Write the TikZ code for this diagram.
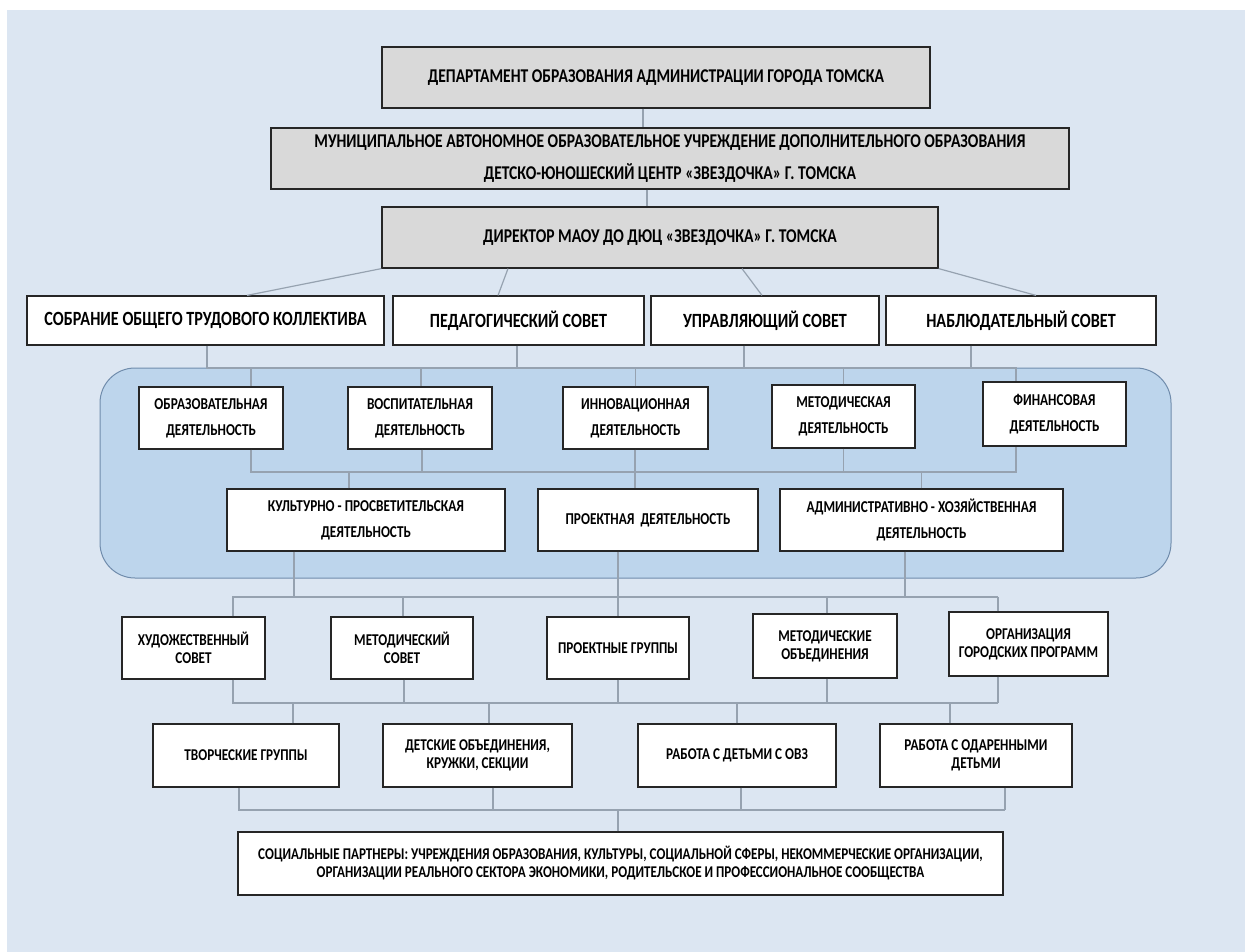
\documentclass[tikz,border=0pt]{standalone}
\usepackage{fontspec}
\setmainfont{Carlito}[FakeStretch=0.8]
\usetikzlibrary{positioning}
\definecolor{fonblue}{RGB}{220,230,242}
\definecolor{panelblue}{RGB}{189,213,236}
\definecolor{panelline}{RGB}{112,140,172}
\definecolor{linkgray}{RGB}{150,162,176}
\definecolor{boxgray}{RGB}{217,217,217}
\tikzstyle{gbox} = [draw=black!85, fill=boxgray, line width=1.2pt, align=center, inner sep=0pt, minimum height=61pt, font=\bfseries\fontsize{19.5}{32}\selectfont]
\tikzstyle{sovet} = [draw=black!85, fill=white, line width=1.2pt, inner sep=0pt, minimum height=49pt, font=\bfseries\fontsize{20.2}{24}\selectfont]
\tikzstyle{deyat} = [draw=black!85, fill=white, line width=1.2pt, inner sep=0pt, align=center, minimum height=62pt, font=\bfseries\fontsize{16.6}{26}\selectfont]
\tikzstyle{zveno} = [deyat, font=\bfseries\fontsize{16.5}{18}\selectfont]
\tikzstyle{link} = [draw=linkgray, line width=1.2pt]

\begin{document}
\begin{tikzpicture}[x=1pt, y=-1pt]
\useasboundingbox (0,0) rectangle (1245,952);
\fill[white] (0,0) rectangle (1245,952);
\fill[fonblue] (7,10) rectangle (1245,952);
\draw[panelline, fill=panelblue, line width=1pt, rounded corners=35pt] (100,368) rectangle (1171,578);

% upper levels
\node[gbox, minimum width=548pt](dep) at (656,77.5) {ДЕПАРТАМЕНТ ОБРАЗОВАНИЯ АДМИНИСТРАЦИИ ГОРОДА ТОМСКА};
\node[gbox, minimum width=798pt](mou) at (670,158.5) {МУНИЦИПАЛЬНОЕ АВТОНОМНОЕ ОБРАЗОВАТЕЛЬНОЕ УЧРЕЖДЕНИЕ ДОПОЛНИТЕЛЬНОГО ОБРАЗОВАНИЯ\\ДЕТСКО-ЮНОШЕСКИЙ ЦЕНТР «ЗВЕЗДОЧКА» Г. ТОМСКА};
\node[gbox, minimum width=556pt](dir) at (660,237.5) {ДИРЕКТОР МАОУ ДО ДЮЦ «ЗВЕЗДОЧКА» Г. ТОМСКА};

% councils
\node[sovet, minimum width=357pt](c1) at (205.5,320.5) {СОБРАНИЕ ОБЩЕГО ТРУДОВОГО КОЛЛЕКТИВА};
\node[sovet, minimum width=251pt](c2) at (518.5,320.5) {ПЕДАГОГИЧЕСКИЙ СОВЕТ};
\node[sovet, minimum width=228pt](c3) at (765,320.5) {УПРАВЛЯЮЩИЙ СОВЕТ};
\node[sovet, minimum width=270pt](c4) at (1021,320.5) {НАБЛЮДАТЕЛЬНЫЙ СОВЕТ};

% activities
\node[deyat, minimum width=144pt](obr) at (211,418) {ОБРАЗОВАТЕЛЬНАЯ\\ДЕЯТЕЛЬНОСТЬ};
\node[deyat, minimum width=144pt](vosp) at (420,418) {ВОСПИТАТЕЛЬНАЯ\\ДЕЯТЕЛЬНОСТЬ};
\node[deyat, minimum width=145pt](innov) at (635.5,418) {ИННОВАЦИОННАЯ\\ДЕЯТЕЛЬНОСТЬ};
\node[deyat, minimum width=143pt, minimum height=63pt](metod) at (843.5,416.5) {МЕТОДИЧЕСКАЯ\\ДЕЯТЕЛЬНОСТЬ};
\node[deyat, minimum width=143pt, minimum height=64pt](fin) at (1054.5,414) {ФИНАНСОВАЯ\\ДЕЯТЕЛЬНОСТЬ};
\node[deyat, minimum width=278pt](kult) at (366,520) {КУЛЬТУРНО - ПРОСВЕТИТЕЛЬСКАЯ\\ДЕЯТЕЛЬНОСТЬ};
\node[deyat, minimum width=220pt](proj) at (648,520) {ПРОЕКТНАЯ\ \ ДЕЯТЕЛЬНОСТЬ};
\node[deyat, minimum width=283pt](admin) at (921.5,520) {АДМИНИСТРАТИВНО - ХОЗЯЙСТВЕННАЯ\\ДЕЯТЕЛЬНОСТЬ};

% units
\node[zveno, minimum width=143pt](hud) at (193.5,648) {ХУДОЖЕСТВЕННЫЙ\\СОВЕТ};
\node[zveno, minimum width=142pt](msov) at (402,648) {МЕТОДИЧЕСКИЙ\\СОВЕТ};
\node[zveno, minimum width=142pt](prgr) at (618,648) {ПРОЕКТНЫЕ ГРУППЫ};
\node[zveno, minimum width=144pt, minimum height=64pt](mob) at (825,646) {МЕТОДИЧЕСКИЕ\\ОБЪЕДИНЕНИЯ};
\node[zveno, minimum width=159pt, minimum height=64pt](org) at (1028.5,644) {ОРГАНИЗАЦИЯ\\ГОРОДСКИХ ПРОГРАММ};
\node[zveno, minimum width=186pt, minimum height=63pt](tvor) at (246,755.5) {ТВОРЧЕСКИЕ ГРУППЫ};
\node[zveno, minimum width=189pt, minimum height=63pt](det) at (477.5,755.5) {ДЕТСКИЕ ОБЪЕДИНЕНИЯ,\\КРУЖКИ, СЕКЦИИ};
\node[zveno, minimum width=198pt, minimum height=63pt](ovz) at (737,755.5) {РАБОТА С ДЕТЬМИ С ОВЗ};
\node[zveno, minimum width=192pt, minimum height=63pt](odar) at (976,755.5) {РАБОТА С ОДАРЕННЫМИ\\ДЕТЬМИ};
\node[zveno, minimum width=765pt, minimum height=63pt, font=\bfseries\fontsize{16.4}{18}\selectfont](soc) at (620.5,863.5) {СОЦИАЛЬНЫЕ ПАРТНЕРЫ: УЧРЕЖДЕНИЯ ОБРАЗОВАНИЯ, КУЛЬТУРЫ, СОЦИАЛЬНОЙ СФЕРЫ, НЕКОММЕРЧЕСКИЕ ОРГАНИЗАЦИИ,\\ОРГАНИЗАЦИИ РЕАЛЬНОГО СЕКТОРА ЭКОНОМИКИ, РОДИТЕЛЬСКОЕ И ПРОФЕССИОНАЛЬНОЕ СООБЩЕСТВА};

% bus ends
\coordinate (busA) at (1016,368);
\coordinate (busB) at (1016,472);
\coordinate (busC) at (998,597);
\coordinate (busD) at (998,703);
\coordinate (busE) at (1005,810);

\draw[link] ([xshift=-13pt]dep.south) -- ([xshift=-27pt]mou.north);
\draw[link] ([xshift=-23pt]mou.south) -- ([xshift=-13pt]dir.north);
\draw[link] (dir.south west) -- ([xshift=41.5pt]c1.north);
\draw[link] ([xshift=-152pt]dir.south) -- ([xshift=-20.5pt]c2.north);
\draw[link] ([xshift=82pt]dir.south) -- ([xshift=-3pt]c3.north);
\draw[link] (dir.south east) -- ([xshift=15pt]c4.north);

\draw[link] ([xshift=1.5pt]c1.south) |- (busA) -- ([xshift=-38.5pt]fin.north);
\draw[link] ([xshift=-1.5pt]c2.south) |- (busA);
\draw[link] ([xshift=-21pt]c3.south) |- (busA);
\draw[link] ([xshift=-50pt]c4.south) |- (busA);
\draw[link] ([xshift=40pt]obr.north) |- (busA);
\draw[link] ([xshift=1pt]vosp.north) |- (busA);
\draw[link] (innov.north) |- (busA);
\draw[link] (metod.north) |- (busA);

\draw[link] ([xshift=40pt]obr.south) |- (busB) -- ([xshift=-38.5pt]fin.south);
\draw[link] ([xshift=2pt]vosp.south) |- (busB);
\draw[link] (metod.south) |- (busB);
\draw[link] ([xshift=-17pt]kult.north) |- (busB);
\draw[link] (admin.north) |- (busB);
\draw[link] ([xshift=-0.5pt]innov.south) -- ([xshift=-13pt]proj.north);

\draw[link] ([xshift=-72pt]kult.south) |- (busC);
\draw[link] ([xshift=-16.5pt]admin.south) |- (busC);
\draw[link] ([xshift=39.5pt]hud.north) |- (busC);
\draw[link] ([xshift=1pt]msov.north) |- (busC);
\draw[link] ([xshift=2pt]mob.north) |- (busC);
\draw[link] ([xshift=-30.5pt]org.north) -- (busC);
\draw[link] ([xshift=-30pt]proj.south) -- (prgr.north);

\draw[link] ([xshift=39.5pt]hud.south) |- (busD);
\draw[link] ([xshift=2pt]msov.south) |- (busD);
\draw[link] (prgr.south) |- (busD);
\draw[link] ([xshift=2pt]mob.south) |- (busD);
\draw[link] ([xshift=-30.5pt]org.south) -- (busD);
\draw[link] ([xshift=47pt]tvor.north) |- (busD);
\draw[link] ([xshift=11.5pt]det.north) |- (busD);
\draw[link] (ovz.north) |- (busD);
\draw[link] ([xshift=-26pt]odar.north) |- (busD);

\draw[link] ([xshift=-7pt]tvor.south) |- (busE);
\draw[link] ([xshift=15.5pt]det.south) |- (busE);
\draw[link] ([xshift=4pt]ovz.south) |- (busE);
\draw[link] ([xshift=29pt]odar.south) -- (busE);
\draw[link] ([xshift=-2.5pt]soc.north) |- (busE);
\end{tikzpicture}
\end{document}
